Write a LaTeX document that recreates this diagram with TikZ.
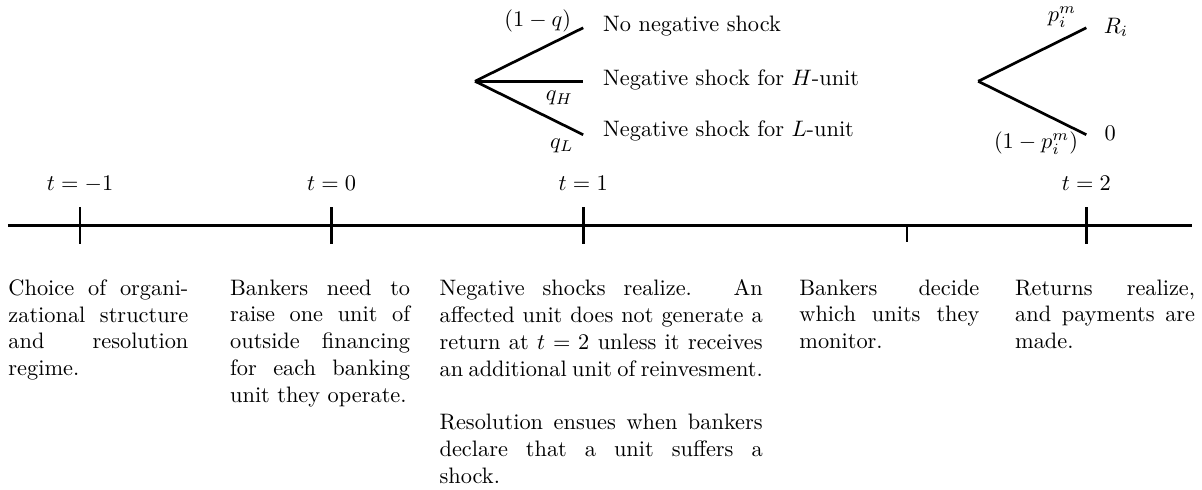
\documentclass[tikz,border=0pt]{standalone}
\usepackage{amsmath,amssymb}
\usepackage{tikz}

\begin{document}
\begin{tikzpicture}[
    scale=0.989,
    axis/.style={very thick},
    tickmark/.style={very thick},
    branch/.style={very thick},
    timelabel/.style={anchor=base, inner sep=0pt},
    outcome/.style={anchor=west, inner sep=2pt},
    problabel/.style={inner sep=1pt},
    desc/.style={anchor=north west, inner sep=0pt, text width=2.83cm, align=justify}
]
\useasboundingbox (-1.272,-4.208) rectangle (17.838,3.582);

% time axis
\coordinate (al) at (-1.145,0);
\coordinate (ar) at (17.68,0);
\draw[axis] (al)--(ar);

\coordinate (tm1) at (0,0);
\coordinate (t0) at (4,0);
\coordinate (t1) at (8,0);
\coordinate (tmon) at (13.15,0);
\coordinate (t2) at (16,0);

\draw[tickmark] ([yshift=0.29cm]tm1)--([yshift=-0.29cm]tm1);
\draw[tickmark] ([yshift=0.29cm]t0)--([yshift=-0.29cm]t0);
\draw[tickmark] ([yshift=0.29cm]t1)--([yshift=-0.29cm]t1);
\draw[tickmark] (tmon)--([yshift=-0.27cm]tmon);
\draw[tickmark] ([yshift=0.29cm]t2)--([yshift=-0.29cm]t2);

\node[timelabel] (lm1) at (0,0.553) {\(t=-1\)};
\node[timelabel] (l0) at (4,0.553) {\(t=0\)};
\node[timelabel] (l1) at (8,0.553) {\(t=1\)};
\node[timelabel] (l2) at (16,0.553) {\(t=2\)};

% shock tree at t=1
\coordinate (sroot) at (6.28,2.29);
\coordinate (s1) at (8,3.14);
\coordinate (s2) at (8,2.29);
\coordinate (s3) at (8,1.44);
\draw[branch] (sroot)--(s1);
\draw[branch] (sroot)--(s2);
\draw[branch] (sroot)--(s3);
\node[problabel, anchor=east] (pq) at (7.85,3.25) {\((1-q)\)};
\node[problabel] (pqh) at (7.62,2.02) {\(q_H\)};
\node[problabel] (pql) at (7.66,1.27) {\(q_L\)};
\node[outcome] (o1) at (8.24,3.16) {No negative shock};
\node[outcome] (o2) at (8.24,2.31) {Negative shock for \(H\)-unit};
\node[outcome] (o3) at (8.24,1.50) {Negative shock for \(L\)-unit};

% return tree at t=2
\coordinate (rroot) at (14.28,2.29);
\coordinate (r1) at (16,3.14);
\coordinate (r2) at (16,1.44);
\draw[branch] (rroot)--(r1);
\draw[branch] (rroot)--(r2);
\node[problabel] (pp) at (15.61,3.31) {\(p_i^m\)};
\node[problabel] (pnp) at (15.2,1.31) {\((1-p_i^m)\)};
\node[problabel] (ri) at (16.47,3.15) {\(R_i\)};
\node[problabel] (rz) at (16.38,1.46) {\(0\)};

% descriptions
\node[desc] (d1) at (-1.145,-0.855) {Choice of organizational structure and resolution regime.};
\node[desc] (d2) at (2.38,-0.855) {Bankers need to raise one unit of outside financing for each banking unit they operate.};
\node[desc, text width=5.08cm] (d3) at (5.71,-0.855) {\hyphenpenalty=10000 Negative shocks realize. An affected unit does not generate a return at \(t=2\) unless it receives an additional unit of reinvesment.\par\vspace{\baselineskip}
Resolution ensues when bankers declare that a unit suffers a shock.};
\node[desc] (d4) at (11.43,-0.855) {Bankers decide which units they monitor.};
\node[desc] (d5) at (14.86,-0.855) {Returns realize, and payments are made.};

\end{tikzpicture}
\end{document}
